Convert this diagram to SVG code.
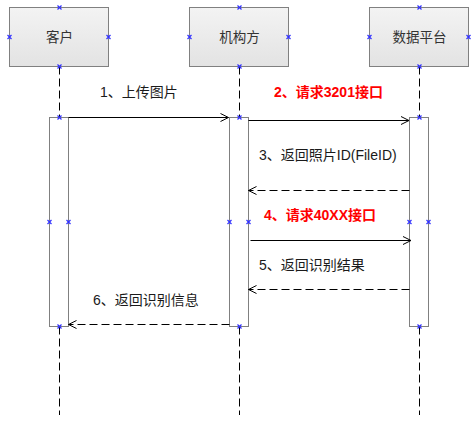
<svg xmlns="http://www.w3.org/2000/svg" width="475" height="423" viewBox="0 0 475 423">
<defs>
<linearGradient id="boxg" x1="0" y1="0" x2="0" y2="1">
<stop offset="0" stop-color="#f3f3f3"/>
<stop offset="1" stop-color="#e3e3e3"/>
</linearGradient>
<marker id="open" viewBox="0 0 10 10" refX="9" refY="5" markerWidth="10" markerHeight="10" markerUnits="userSpaceOnUse" orient="auto">
<path d="M1,1 L9,5 L1,9" fill="none" stroke="#000" stroke-width="1"/>
</marker>
<g id="mk"><path d="M-2,-2 L2,2 M-2,2 L2,-2" stroke="#3030ff" stroke-width="1.2" fill="none"/></g>
</defs>
<style>
.box{fill:url(#boxg);stroke:#808080;stroke-width:1}
.bar{fill:#fff;stroke:#808080;stroke-width:1}
.life{stroke:#000;stroke-width:1;stroke-dasharray:8 4;fill:none}
.msg{stroke:#000;stroke-width:1;fill:none;marker-end:url(#open)}
.ret{stroke:#000;stroke-width:1;fill:none;stroke-dasharray:8 4;marker-end:url(#open)}
text{font-family:"Liberation Sans","Noto Sans CJK SC",sans-serif;font-size:14px;fill:#1a1a1a}
.nm{text-anchor:middle;fill:#333;font-size:13.5px}
.red{fill:#ff0000;font-weight:bold;font-size:14px}
</style>
<g id="lifelines">
<line class="life" x1="59.5" y1="66.5" x2="59.5" y2="117.5"/>
<line class="life" x1="59.5" y1="326.5" x2="59.5" y2="415"/>
<line class="life" x1="239.5" y1="66.5" x2="239.5" y2="117.5"/>
<line class="life" x1="239.5" y1="326.5" x2="239.5" y2="415"/>
<line class="life" x1="419.5" y1="66.5" x2="419.5" y2="117.5"/>
<line class="life" x1="419.5" y1="326.5" x2="419.5" y2="415"/>
</g>
<g id="node-client">
<rect class="box" x="9.5" y="7.5" width="99" height="59"/>
<text class="nm" x="59.5" y="42">客户</text>
</g>
<g id="node-org">
<rect class="box" x="189.5" y="7.5" width="99" height="59"/>
<text class="nm" x="239.5" y="42">机构方</text>
</g>
<g id="node-platform">
<rect class="box" x="369.5" y="7.5" width="99" height="59"/>
<text class="nm" x="419.5" y="42">数据平台</text>
</g>
<g id="bar-client"><rect class="bar" x="49.5" y="117.5" width="19" height="209"/></g>
<g id="bar-org"><rect class="bar" x="229.5" y="117.5" width="19" height="209"/></g>
<g id="bar-platform"><rect class="bar" x="409.5" y="117.5" width="19" height="209"/></g>
<g id="connectors">
<line class="msg" x1="68.5" y1="117.5" x2="228.5" y2="117.5"/>
<line class="msg" x1="248.5" y1="120.5" x2="409" y2="120.5"/>
<line class="ret" x1="409.5" y1="190.5" x2="248.5" y2="190.5"/>
<line class="msg" x1="250.5" y1="240.5" x2="411" y2="240.5"/>
<line class="ret" x1="409.5" y1="289.5" x2="248.5" y2="289.5"/>
<line class="ret" x1="229.5" y1="324.5" x2="68.5" y2="324.5"/>
</g>
<g id="labels">
<text x="100" y="97">1、上传图片</text>
<text class="red" x="274" y="97">2、请求3201接口</text>
<text x="259" y="160">3、返回照片ID(FileID)</text>
<text class="red" x="264" y="220">4、请求40XX接口</text>
<text x="259" y="270">5、返回识别结果</text>
<text x="93" y="305">6、返回识别信息</text>
</g>
<g id="markers">
<use href="#mk" x="59.5" y="7.5"/><use href="#mk" x="9.5" y="37"/><use href="#mk" x="108.5" y="37"/><use href="#mk" x="59.5" y="66.5"/>
<use href="#mk" x="239.5" y="7.5"/><use href="#mk" x="189.5" y="37"/><use href="#mk" x="288.5" y="37"/><use href="#mk" x="239.5" y="66.5"/>
<use href="#mk" x="419.5" y="7.5"/><use href="#mk" x="369.5" y="37"/><use href="#mk" x="468.5" y="37"/><use href="#mk" x="419.5" y="66.5"/>
<use href="#mk" x="59.5" y="117.5"/><use href="#mk" x="59.5" y="326.5"/><use href="#mk" x="49.5" y="222"/><use href="#mk" x="68.5" y="222"/>
<use href="#mk" x="239.5" y="117.5"/><use href="#mk" x="239.5" y="326.5"/><use href="#mk" x="229.5" y="222"/><use href="#mk" x="248.5" y="222"/>
<use href="#mk" x="419.5" y="117.5"/><use href="#mk" x="419.5" y="326.5"/><use href="#mk" x="409.5" y="222"/><use href="#mk" x="428.5" y="222"/>
</g>
</svg>
